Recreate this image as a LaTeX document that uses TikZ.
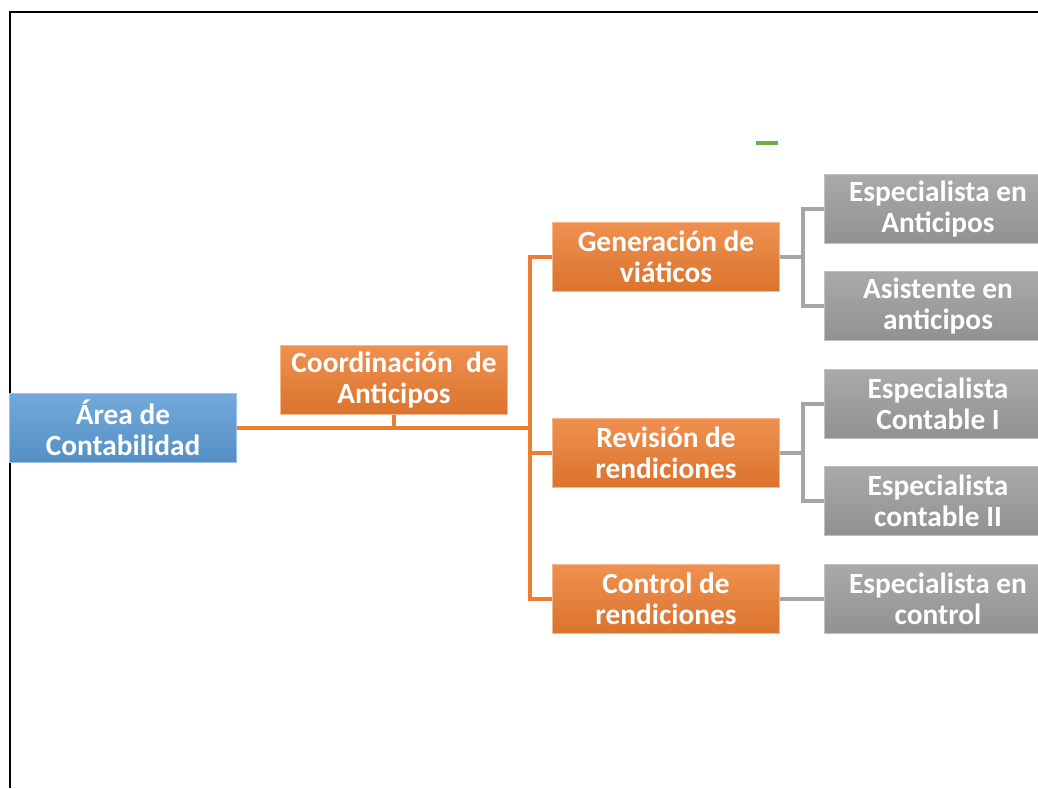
\documentclass[tikz,border=0pt]{standalone}
\usepackage{fontspec}
\setmainfont{Carlito}
\usepackage{tikz}
\usetikzlibrary{positioning,calc}

\definecolor{naranja}{HTML}{ED7D31}
\definecolor{azul}{HTML}{5B9BD5}
\definecolor{gris}{HTML}{A5A5A5}
\definecolor{verde}{HTML}{70AD47}

\tikzset{
  caja/.style={rectangle, minimum width=4.54cm, minimum height=1.38cm, inner sep=1pt,
    align=center, text=white, font=\fontsize{16.7}{17.6}\selectfont\bfseries},
  cajanaranja/.style={caja, top color=naranja!85!white, bottom color=naranja!92!black, draw=naranja!55!white, line width=0.5pt},
  cajaazul/.style={caja, top color=azul!85!white, bottom color=azul!92!black, draw=azul!60!white, line width=0.5pt},
  cajagris/.style={caja, top color=gris!95!white, bottom color=gris!88!black, draw=gris!70!white, line width=0.5pt},
  lineanaranja/.style={naranja, line width=1.8pt},
  lineagris/.style={gris, line width=1.8pt}
}

\begin{document}
\begin{tikzpicture}[x=0.02cm,y=-0.02cm]
\clip (0,0) rectangle (1038,788);
\fill[white] (0,0) rectangle (1038,788);
\draw[black, line width=1.3pt] (10,788) -- (10,12) -- (1038,12);
\draw[verde, line width=2.2pt] (756,143) -- (778,143);

% niveles
\node[cajaazul] (area) at (123,428) {Área de\\Contabilidad};
\node[cajanaranja] (coord) at (394,380) {Coordinación~ de\\Anticipos};

\node[cajanaranja] (gen) at (666,257) {Generación de\\viáticos};
\node[cajanaranja] (rev) at (666,453) {Revisión de\\rendiciones};
\node[cajanaranja] (ctrl) at (666,599) {Control de\\rendiciones};

\node[cajagris] (espant) at (938,209) {Especialista en\\Anticipos};
\node[cajagris] (asis) at (938,306) {Asistente en\\anticipos};
\node[cajagris] (cont1) at (938,404) {Especialista\\Contable I};
\node[cajagris] (cont2) at (938,501) {Especialista\\contable II};
\node[cajagris] (espctrl) at (938,599) {Especialista en\\control};

% conectores
\coordinate (tronco) at (530,428);
\draw[lineanaranja] (area.east) -- (tronco);
\draw[lineanaranja] (coord.south) -- (coord.south |- tronco);
\draw[lineanaranja] (gen.west) -| (tronco) |- (ctrl.west);
\draw[lineanaranja] (tronco) |- (rev.west);

\draw[lineagris] (gen.east) -- ++(23,0) coordinate (ramagen);
\draw[lineagris] (espant.west) -| (ramagen) |- (asis.west);
\draw[lineagris] (rev.east) -- ++(23,0) coordinate (ramarev);
\draw[lineagris] (cont1.west) -| (ramarev) |- (cont2.west);
\draw[lineagris] (ctrl.east) -- (espctrl.west);
\end{tikzpicture}
\end{document}
